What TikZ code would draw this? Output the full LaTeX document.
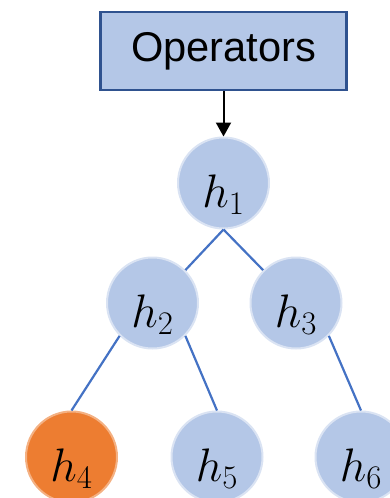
\documentclass[tikz,border=0pt]{standalone}
\usepackage{fix-cm}
\usepackage{fontspec}
\newfontfamily\boxfont{Liberation Sans}
\usetikzlibrary{arrows.meta}
\definecolor{nodefill}{HTML}{B4C7E7}
\definecolor{nodeedge}{HTML}{DAE3F3}
\definecolor{boxedge}{HTML}{2F528F}
\definecolor{linkblue}{HTML}{4472C4}
\definecolor{leaforange}{HTML}{ED7D31}
\definecolor{leafedge}{HTML}{F4B183}
% label set low in the circle, baseline 24pt under the centre
\newcommand{\hlabel}[1]{\raisebox{-24pt}[0pt][0pt]{$h_{#1}$}}
\tikzset{
  opbox/.style={draw=boxedge, fill=nodefill, line width=2.5pt,
    minimum width=246pt, minimum height=78pt, inner sep=0pt,
    font=\boxfont\fontsize{41.6}{50}\selectfont},
  hnode/.style={circle, draw=nodeedge, fill=nodefill, line width=2pt,
    minimum size=91pt, inner sep=0pt,
    font=\fontsize{47}{56}\selectfont},
  hot/.style={hnode, draw=leafedge, fill=leaforange},
  link/.style={draw=linkblue, line width=2.2pt},
  feed/.style={draw=black, line width=2pt, -{Triangle[length=14pt,width=15pt]}}
}
\begin{document}
\begin{tikzpicture}[x=1pt, y=-1pt]
  \useasboundingbox (0,0) rectangle (390,498);
  \clip (0,0) rectangle (390,498);
  \node[opbox] (ops) at (223.5,51) {Operators};
  \node[hnode] (h1) at (223.5,183) {\hlabel{1}};
  \node[hnode] (h2) at (152.5,303) {\hlabel{2}};
  \node[hnode] (h3) at (296,303) {\hlabel{3}};
  \node[hot]   (h4) at (71.5,457) {\hlabel{4}};
  \node[hnode] (h5) at (217,457) {\hlabel{5}};
  \node[hnode] (h6) at (361,457) {\hlabel{6}};
  \draw[feed] (ops.south) -- (h1.north);
  \draw[link] (h1.south) -- (h2.north east);
  \draw[link] (h1.south) -- (h3.north west);
  \draw[link] (h2.south west) -- (h4.north);
  \draw[link] (h2.south east) -- (h5.north);
  \draw[link] (h3.south east) -- (h6.north);
\end{tikzpicture}
\end{document}
